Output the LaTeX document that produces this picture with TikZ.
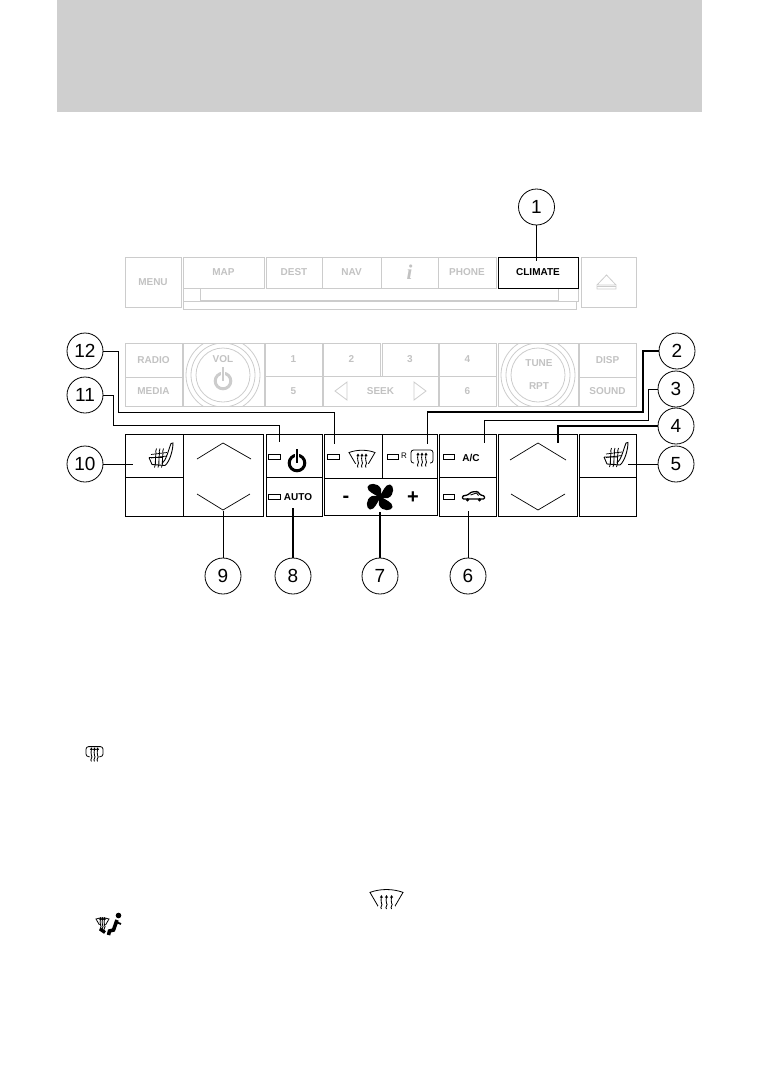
\documentclass[tikz,border=0pt]{standalone}
\usepackage{fontspec}
\setmainfont{Liberation Sans}
\newfontfamily\serifi{Liberation Serif}
\colorlet{band gray}{black!19}
\colorlet{faded edge}{black!20}
\colorlet{faded text}{black!24}
\tikzset{faded/.style={draw=faded edge, line width=0.8pt},
    panel/.style={draw=black, line width=0.9pt},
    lbl/.style={font=\bfseries\fontsize{10}{12}\selectfont, inner sep=0pt},
    fadedlbl/.style={lbl, text=faded text},
    lead/.style={draw=black, line width=0.7pt},
    leadthick/.style={draw=black, line width=1.4pt},
    callout/.style={circle, draw=black, line width=0.8pt, minimum size=36pt, inner sep=0pt,
        fill=white, font=\fontsize{19}{22}\selectfont},
    led/.style={draw=black, line width=0.5pt},
    chevron/.style={draw=black, line width=0.7pt},
    heat wave/.pic={
        \draw[line width=0.85pt] (0,9) .. controls (-2,7) and (2,5) .. (0,3)
            .. controls (-2,1) and (1,-1) .. (0,-3);
        \fill (-1.6,-2.4) -- (0,-5) -- (1.6,-2.4) -- cycle;
    },
    front defrost/.pic={
        \draw[line width=0.8pt] (-13,-6) .. controls (-5,-9) and (5,-9) .. (13,-6)
            -- (6,6) .. controls (2,6.8) and (-2,6.8) .. (-6,6) -- cycle;
        \fill[white] (-7,5) rectangle (7,10);
        \foreach \hx in {-4,0,4} \pic at (\hx,0) {heat wave};
    },
    rear defrost/.pic={
        \draw[line width=0.8pt, rounded corners=2.5pt] (-8,6) -- (-11,6) -- (-11,-7) -- (11,-7) -- (11,6) -- (8,6);
        \foreach \hx in {-4,0,4} \pic at (\hx,0.5) {heat wave};
    },
    seat heat/.pic={
        \draw[line width=0.9pt] (2,8) .. controls (6,5) and (8,-4) .. (11,-12) -- (13,-12.5)
            .. controls (13,-6) and (10,6) .. (5,10);
        \draw[line width=0.9pt] (-11,2) -- (3,2) (-11,2) -- (-8,9) -- (5,10);
        \foreach \hx in {-4.5,-1,2.5} \draw[line width=0.8pt, xshift=\hx pt] (1,-7) .. controls (-1,-3) and (2,-1) .. (0,2)
            .. controls (-1,5) and (1,7) .. (-1,12);
        \draw[line width=0.7pt] (-9,-1) -- (7,-3) (-9,2.5) -- (7,0.5);
    },
    fan blades/.pic={
        \foreach \ang in {0,90,180,270}
            \fill[rotate=\ang] (0,1) .. controls (-5,-3) and (-13,-5) .. (-12.5,-10)
                .. controls (-12,-14) and (-2,-15) .. (1,-8) .. controls (1.5,-5) and (1,-2) .. (0,1);
    },
    power sign/.pic={
        \draw[line width=3pt] (0,0) circle (7.8);
        \draw[line width=3.4pt, white] (0,-11) -- (0,-3);
        \draw[line width=2.8pt] (0,-14) -- (0,0);
    },
    car sign/.pic={
        \draw[line width=1.3pt, rounded corners=1pt] (-11,3) -- (-11,0) -- (-6,-1) -- (-2,-4) -- (4,-4.5) -- (7,-1) -- (11,0) -- (11,3) -- cycle;
        \draw[line width=0.9pt] (-3,-1) -- (3,-3) -- (5,-0.5);
        \fill (-6,3.8) circle (1.8) (6,3.8) circle (1.8);
    },
    seated person/.pic={
        \fill (118.5,915.5) circle (2.8);
        \draw[line width=3.6pt] (117,920) -- (113.5,930) -- (109.5,931) -- (108.5,935);
        \draw[line width=1.8pt] (116,922) -- (121,924);
        \draw[line width=3.2pt] (100,929) -- (105,932.5);
    }}

\begin{document}
\begin{tikzpicture}[x=1pt, y=-1pt]
    \useasboundingbox (0,0) rectangle (757,1081);
    % Header band
    \fill[band gray] (57,0) rectangle (702,112);

    % Faded radio buttons
    \foreach \nm/\xa/\ya/\xb/\yb/\txt in {menu/125/257/181/307/MENU, map/183/257/264/288/MAP,
        dest/266/257/322/288/DEST, nav/322/257/381/288/NAV, phone/438/257/496/288/PHONE,
        radio/125/343/182/377/RADIO, media/125/377/182/406/MEDIA,
        one/265/343/322/376/1, five/265/376/322/406/5, two/323/343/380/376/2, three/382/343/438/376/3,
        four/439/343/496/376/4, six/439/376/496/406/6, seek/323/376/438/406/SEEK,
        disp/579/343/636/377/DISP, sound/579/377/636/406/SOUND}
        \draw[faded] (\xa,\ya) rectangle (\xb,\yb) node[midway, fadedlbl] (\nm) {\txt};
    \draw[faded] (381,257) rectangle (438,288) node[midway, text=faded text, inner sep=0pt,
        font=\serifi\bfseries\itshape\fontsize{21}{22}\selectfont] (info) {i};

    % Disc slot
    \draw[faded] (183,288) -- (183,309) -- (576,309) -- (576,301);
    \draw[faded] (183,301) -- (200,301) -- (200,288);
    \draw[faded] (558,288) -- (558,301) -- (578,301) -- (578,288);
    \draw[draw=faded edge, line width=1.4pt] (200,301) -- (558,301);

    % Eject
    \draw[faded] (581,257) rectangle (636,307);
    \draw[faded] (597,285) -- (606.5,275) -- (616,285) -- cycle (597,286.5) rectangle (616,289);

    % Knobs
    \draw[faded] (183,343) rectangle (264,406);
    \begin{scope}
        \clip (183,343) rectangle (264,406);
        \foreach \rad in {37,32,27} \draw[faded] (223,375) circle (\rad);
    \end{scope}
    \node[fadedlbl] (vol) at (223,359) {VOL};
    \pic[draw=faded edge, color=faded edge] at (223,381) {power sign};
    \draw[faded] (498,343) rectangle (578,406);
    \begin{scope}
        \clip (498,343) rectangle (578,406);
        \foreach \rad in {37,32,27} \draw[faded] (538,375) circle (\rad);
    \end{scope}
    \node[fadedlbl] (tune) at (539,363) {TUNE};
    \node[fadedlbl] (rpt) at (539,386) {RPT};

    % Seek arrows
    \draw[faded] (347,382) -- (335,391) -- (347,400) -- cycle;
    \draw[faded] (414,382) -- (426,391) -- (414,400) -- cycle;

    % Climate button
    \draw[panel] (498,257) rectangle (578,288) node[midway, lbl] (climate) {CLIMATE};

    % Seat and temperature panels
    \foreach \xa/\xb in {125/183, 579/636} {
        \draw[panel] (\xa,434) rectangle (\xb,516);
        \draw[panel] (\xa,477) -- (\xb,477);
    }
    \draw[panel] (183,434) rectangle (263,516);
    \draw[panel] (498,434) rectangle (577,516);
    \draw[chevron] (197,459) -- (223,443) -- (251,459);
    \draw[chevron] (197,494) -- (223,510) -- (250,494);
    \draw[chevron] (510,460) -- (538,443) -- (566,460);
    \draw[chevron] (511,494) -- (538,510) -- (565,494);
    \pic at (160,455.5) {seat heat};
    \pic at (615,455) {seat heat};

    % Power and auto
    \draw[panel] (266,434) rectangle (322,516);
    \draw[panel] (266,477.5) -- (322,477.5);
    \draw[led] (268,454) rectangle (280,459);
    \draw[led] (268,494) rectangle (280,499);
    \pic at (297,463) {power sign};
    \node[lbl] (auto) at (298,497) {AUTO};

    % Defrost and fan
    \draw[panel] (324,434) rectangle (437,515);
    \draw[panel] (324,478) -- (437,478);
    \draw[panel] (382,434) -- (382,478);
    \draw[led] (327,454) rectangle (339,459);
    \draw[led] (387,454) rectangle (398,459);
    \pic at (362,458.5) {front defrost};
    \pic at (422,457) {rear defrost};
    \node[inner sep=0pt, font=\fontsize{8}{9}\selectfont] (rlbl) at (404,456) {R};
    \pic at (380,497) {fan blades};
    \node[inner sep=0pt, font=\bfseries\fontsize{20}{22}\selectfont] (minus) at (346,499) {-};
    \node[inner sep=0pt, font=\bfseries\fontsize{20}{22}\selectfont] (plus) at (413,498) {+};

    % A/C and recirculation
    \draw[panel] (439,434) rectangle (496,516);
    \draw[panel] (439,477) -- (496,477);
    \draw[led] (443,454) rectangle (454,459);
    \draw[led] (443,494) rectangle (454,499);
    \node[lbl] (ac) at (471,457.5) {A/C};
    \pic at (473.5,496) {car sign};

    % Callouts
    \foreach \nm/\x/\y/\txt in {cA/536.5/207/1, cB/677/351/2, cC/676/389/3, cD/676/426/4, cE/676/464/5,
        cF/468/576/6, cG/380/576/7, cH/293/576/8, cI/223/576/9, cJ/85/464/10, cK/85/395/11, cL/85/351/12}
        \node[callout] (\nm) at (\x,\y) {\txt};

    % Leader ends
    \coordinate (tA) at (536.5,261);
    \coordinate (tB) at (427.5,444);
    \coordinate (tC) at (484,443);
    \coordinate (tD) at (558,443);
    \coordinate (tE) at (628,464);
    \coordinate (tF) at (468,511);
    \coordinate (tG) at (380,512);
    \coordinate (tH) at (293,508);
    \coordinate (tI) at (223,511);
    \coordinate (tJ) at (133,464);
    \coordinate (tK) at (279,442);
    \coordinate (tL) at (334,444);

    \draw[lead] (cA) -- (tA);
    \draw[leadthick] (cB) -| (643,412) -| (tB);
    \draw[lead] (cC) -| (648,420) -| (tC);
    \draw[leadthick] (cD) -| (tD);
    \draw[lead] (cE) -- (tE);
    \draw[lead] (cF) -- (tF);
    \draw[leadthick] (cG) -- (tG);
    \draw[leadthick] (cH) -- (tH);
    \draw[lead] (cI) -- (tI);
    \draw[lead] (cJ) -- (tJ);
    \draw[lead, line width=1pt] (cK) -| (113,425) -| (tK);
    \draw[lead] (cL) -| (118,412) -| (tL);

    % Small icons in the page
    \pic[scale=0.77] at (94.5,752) {rear defrost};
    \pic[scale=1.27] at (386.5,900) {front defrost};
    \pic[scale=0.5] at (102.5,922) {front defrost};
    \pic at (0,0) {seated person};
\end{tikzpicture}
\end{document}
